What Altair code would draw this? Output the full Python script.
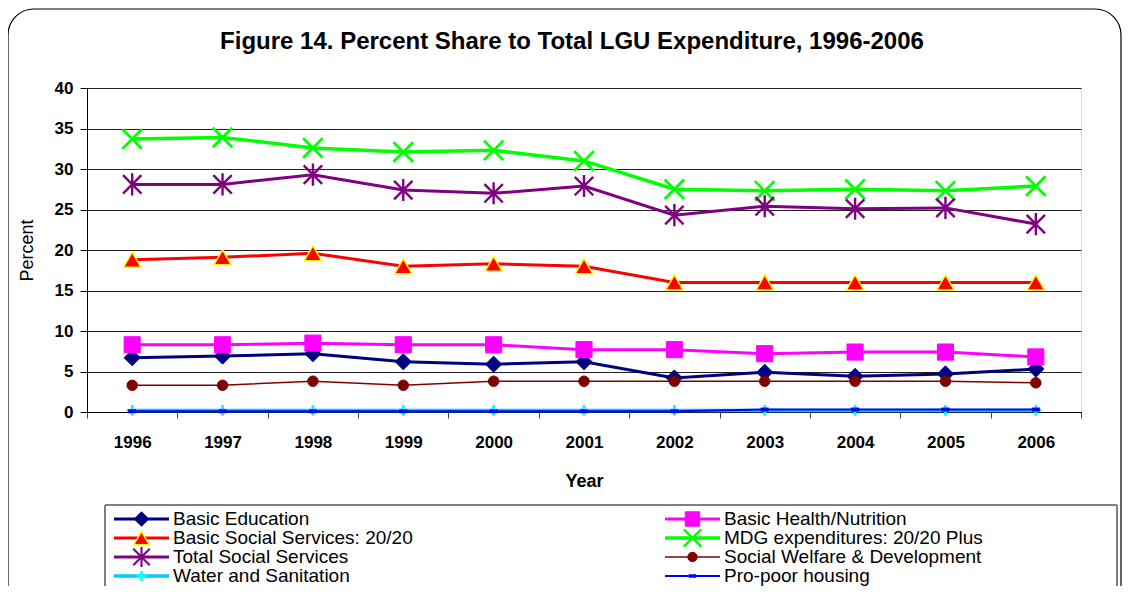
import altair as alt
import pandas as pd

years = [1996, 1997, 1998, 1999, 2000, 2001, 2002, 2003, 2004, 2005, 2006]

series_names = [
    "Basic Education",
    "Basic Health/Nutrition",
    "Basic Social Services: 20/20",
    "MDG expenditures: 20/20 Plus",
    "Total Social Services",
    "Social Welfare & Development",
    "Water and Sanitation",
    "Pro-poor housing",
]

basic_education = [6.7, 6.9, 7.2, 6.2, 5.9, 6.2, 4.2, 4.9, 4.4, 4.7, 5.3]
basic_health = [8.3, 8.3, 8.5, 8.3, 8.3, 7.7, 7.7, 7.2, 7.4, 7.4, 6.8]
basic_social_2020 = [18.8, 19.1, 19.6, 18.0, 18.3, 18.0, 16.0, 16.0, 16.0, 16.0, 16.0]
mdg_2020_plus = [33.7, 33.9, 32.6, 32.1, 32.3, 31.0, 27.5, 27.3, 27.5, 27.3, 27.9]
total_social = [28.1, 28.1, 29.3, 27.4, 27.0, 27.9, 24.3, 25.4, 25.1, 25.2, 23.2]
social_welfare = [3.3, 3.3, 3.8, 3.3, 3.8, 3.8, 3.8, 3.8, 3.8, 3.8, 3.6]
water_sanitation = [0.2, 0.2, 0.2, 0.2, 0.2, 0.2, 0.2, 0.2, 0.2, 0.2, 0.2]
pro_poor_housing = [0.1, 0.1, 0.1, 0.1, 0.1, 0.1, 0.1, 0.3, 0.3, 0.3, 0.3]

values = [basic_education, basic_health, basic_social_2020, mdg_2020_plus,
          total_social, social_welfare, water_sanitation, pro_poor_housing]

X_PATH = "M-1,-1L1,1M-1,1L1,-1"
AST_PATH = "M-1,-1L1,1M-1,1L1,-1M0,-1.2L0,1.2"
PLUS_PATH = "M-1,0L1,0M0,-1L0,1"
DASH_PATH = "M-1,-0.45L1,-0.45L1,0.45L-1,0.45Z"

# style per series: color, line width, shape, marker size, fill, marker stroke, marker stroke width
styles = {
    "Basic Education": ("#000080", 3, "diamond", 260, "#000080", "#000080", 1),
    "Basic Health/Nutrition": ("#FF00FF", 3, "square", 260, "#FF00FF", "#FF00FF", 1),
    "Basic Social Services: 20/20": ("#FF0000", 3, "triangle-up", 300, "#FF0000", "#FFFF00", 1.5),
    "MDG expenditures: 20/20 Plus": ("#00FF00", 3.5, X_PATH, 380, "transparent", "#00FF00", 1.5),
    "Total Social Services": ("#800080", 3, AST_PATH, 340, "transparent", "#800080", 1.5),
    "Social Welfare & Development": ("#800000", 1.5, "circle", 110, "#800000", "#800000", 1),
    "Water and Sanitation": ("#00CCFF", 3.5, PLUS_PATH, 120, "transparent", "#00FFFF", 1.5),
    "Pro-poor housing": ("#0000FF", 2, DASH_PATH, 60, "#0000FF", "#0000FF", 0.5),
}

W, H = 994, 324

rows = []
for name, vals in zip(series_names, values):
    for yr, v in zip(years, vals):
        rows.append({"Year": str(yr), "Percent": v, "Series": name})
df = pd.DataFrame(rows)

x_enc = alt.X("Year:O", scale=alt.Scale(type="band", paddingInner=0, paddingOuter=0),
              axis=alt.Axis(title="Year", labelAngle=0, tickBand="extent", tickSize=6,
                            labelFont="Liberation Sans", labelFontSize=17, labelFontWeight="bold",
                            labelColor="black", labelPadding=16,
                            titleFont="Liberation Sans", titleFontSize=18, titleFontWeight="bold",
                            titleColor="black", titlePadding=22,
                            domainColor="black", tickColor="#444", grid=False))
y_enc = alt.Y("Percent:Q", scale=alt.Scale(domain=[0, 40], nice=False),
              axis=alt.Axis(title="Percent", values=list(range(0, 41, 5)), tickSize=7,
                            labelFont="Liberation Sans", labelFontSize=17, labelFontWeight="bold",
                            labelColor="black", labelPadding=7,
                            titleFont="Liberation Sans", titleFontSize=18, titleFontWeight="normal",
                            titleColor="black", titlePadding=18,
                            domainColor="black", tickColor="black",
                            grid=True, gridColor="#222", gridWidth=1))

layers = []
# outer rounded frame
layers.append(alt.Chart(pd.DataFrame({"a": [0]})).mark_rect(
    fill="transparent", stroke="black", strokeWidth=1.2, cornerRadius=26
).encode(x=alt.value(-79), x2=alt.value(1034), y=alt.value(-79), y2=alt.value(540)))

base = alt.Chart(df).encode(x=x_enc, y=y_enc)

for name in series_names:
    color, lw, shape, size, fill, mstroke, msw = styles[name]
    sub = base.transform_filter(alt.datum.Series == name)
    layers.append(sub.mark_line(color=color, strokeWidth=lw))
    layers.append(sub.mark_point(shape=shape, size=size, filled=False, fill=fill,
                                 stroke=mstroke, strokeWidth=msw if fill != "transparent" else lw * 0.8,
                                 opacity=1))

# title
title_df = pd.DataFrame({"t": ["Figure 14. Percent Share to Total LGU Expenditure, 1996-2006"]})
layers.append(alt.Chart(title_df).mark_text(
    font="Liberation Sans", fontSize=24, fontWeight="bold", color="black", align="center", baseline="middle"
).encode(text="t:N", x=alt.value(485), y=alt.value(-46)))

# legend box
layers.append(alt.Chart(pd.DataFrame({"a": [0]})).mark_rect(
    fill="transparent", stroke="black", strokeWidth=1
).encode(x=alt.value(18), x2=alt.value(1030), y=alt.value(417), y2=alt.value(560)))
layers.append(alt.Chart(pd.DataFrame({"a": [0]})).mark_rule(
    color="#808080", strokeWidth=2
).encode(x=alt.value(18), x2=alt.value(1030), y=alt.value(417)))

# legend entries (layout computed from series index)
leg_rows = []
col_x = [27, 578]
row_y = [431, 450, 469, 488]
for i, name in enumerate(series_names):
    c, r = i % 2, i // 2
    x0 = col_x[c]
    leg_rows.append({"Series": name, "lx0": x0, "lx1": x0 + 55, "mx": x0 + 27.5,
                     "tx": x0 + 59, "ly": row_y[r]})
leg = pd.DataFrame(leg_rows)

for name in series_names:
    color, lw, shape, size, fill, mstroke, msw = styles[name]
    sub = alt.Chart(leg).transform_filter(alt.datum.Series == name)
    layers.append(sub.mark_rule(color=color, strokeWidth=lw).encode(
        x=alt.X("lx0:Q", scale=None), x2="lx1:Q", y=alt.Y("ly:Q", scale=None)))
    layers.append(sub.mark_point(shape=shape, size=size * 0.8, filled=False, fill=fill,
                                 stroke=mstroke, strokeWidth=msw if fill != "transparent" else lw * 0.7,
                                 opacity=1).encode(
        x=alt.X("mx:Q", scale=None), y=alt.Y("ly:Q", scale=None)))
layers.append(alt.Chart(leg).mark_text(
    font="Liberation Sans", fontSize=19, color="black", align="left", baseline="middle"
).encode(x=alt.X("tx:Q", scale=None), y=alt.Y("ly:Q", scale=None), text="Series:N"))

chart = alt.layer(*layers).properties(
    width=W, height=H,
    autosize=alt.AutoSizeParams(type="none"),
    padding={"left": 79, "top": 80, "right": 41, "bottom": 174},
).configure_view(stroke="#808080", strokeWidth=2).configure(background="white")

chart.save("out.html", embed_options={"renderer": "svg", "actions": False})
